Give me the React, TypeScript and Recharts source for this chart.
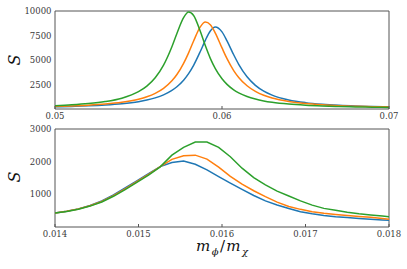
import { LineChart, Line, XAxis, YAxis, ReferenceArea } from "recharts";

// upper panel: m_phi/m_chi around 0.05 - 0.07
const xTop = [
  0.05, 0.051, 0.052, 0.053, 0.054, 0.055, 0.0555, 0.056, 0.0565, 0.057, 0.0573, 0.0577, 0.058, 0.0583, 0.0587,
  0.059, 0.0593, 0.0596, 0.06, 0.0603, 0.0607, 0.061, 0.0615, 0.062, 0.0625, 0.063, 0.064, 0.065, 0.066, 0.067,
  0.068, 0.069, 0.07,
];
const blueTop = [
  321, 362, 419, 503, 632, 843, 1003, 1222, 1531, 1980, 2350, 3010, 3673, 4512, 5905, 7039, 7981, 8389, 7893, 6985,
  5577, 4613, 3355, 2493, 1908, 1506, 1015, 744, 582, 477, 406, 355, 319,
];
const orangeTop = [
  355, 407, 482, 595, 775, 1086, 1331, 1678, 2184, 2945, 3580, 4706, 5775, 6974, 8394, 8878, 8615, 7773, 6269, 5182,
  3986, 3291, 2446, 1877, 1484, 1207, 855, 650, 523, 438, 379, 336, 304,
];
const greenTop = [
  436, 520, 646, 846, 1191, 1847, 2408, 3251, 4530, 6390, 7726, 9326, 9895, 9552, 7950, 6506, 5216, 4176, 3150, 2590,
  2041, 1736, 1362, 1103, 917, 779, 594, 480, 404, 351, 314, 285, 264,
];
const xTopTicks = [0.05, 0.06, 0.07];
const yTopTicks = [2500, 5000, 7500, 10000];

// lower panel: m_phi/m_chi around 0.014 - 0.018
const xBottom = [
  0.014, 0.01414, 0.01428, 0.01442, 0.01456, 0.0147, 0.01484, 0.01498, 0.01512, 0.01526, 0.0154, 0.01554, 0.01568,
  0.01582, 0.01596, 0.0161, 0.01624, 0.01638, 0.01652, 0.01666, 0.0168, 0.01694, 0.01708, 0.01722, 0.01736, 0.0175,
  0.01764, 0.01778, 0.01792, 0.018,
];
const blueBottom = [
  430, 482, 555, 660, 795, 980, 1195, 1415, 1630, 1850, 1975, 2020, 1920, 1750, 1545, 1345, 1150, 965, 800, 675, 565,
  470, 405, 355, 315, 288, 262, 238, 215, 203,
];
const orangeBottom = [
  430, 480, 550, 650, 780, 960, 1170, 1390, 1610, 1845, 2070, 2180, 2200, 2080, 1830, 1550, 1310, 1110, 930, 760, 630,
  540, 470, 420, 385, 350, 320, 295, 262, 240,
];
const greenBottom = [
  428, 477, 545, 640, 765, 940, 1145, 1365, 1590, 1840, 2200, 2440, 2600, 2600, 2440, 2150, 1800, 1510, 1290, 1100,
  950, 800, 670, 570, 510, 450, 405, 370, 335, 317,
];
const xBottomTicks = [0.014, 0.015, 0.016, 0.017, 0.018];
const yBottomTicks = [1000, 2000, 3000];

const topData = xTop.map((x, i) => ({ x, blue: blueTop[i], orange: orangeTop[i], green: greenTop[i] }));
const bottomData = xBottom.map((x, i) => ({ x, blue: blueBottom[i], orange: orangeBottom[i], green: greenBottom[i] }));

const FONT = "DejaVu Serif";
const FRAME = "#555";
const TXT = "#3a3a3a";
const COLORS = { blue: "#1f77b4", orange: "#ff7f0e", green: "#2ca02c" };

const XTick = ({ x, y, payload, digits }: any) => (
  <g>
    <line x1={x} x2={x} y1={y} y2={y - 3} stroke={FRAME} strokeWidth={1} />
    <text x={x} y={y + 3.5} dy="0.71em" textAnchor="middle" fontSize={8.5} style={{ fontFamily: FONT }} fill={TXT}>
      {Number(payload.value).toFixed(digits)}
    </text>
  </g>
);

const YTick = ({ x, y, payload }: any) => (
  <text x={x - 3.5} y={y} dy="0.35em" textAnchor="end" fontSize={8.5} style={{ fontFamily: FONT }} fill={TXT}>
    {payload.value}
  </text>
);

function Panel({ data, xDomain, xTicks, yDomain, yTicks, digits, curve }: any) {
  return (
    <LineChart width={407} height={125} data={data} margin={{ top: 11, right: 18, bottom: 0, left: 0 }}>
      <XAxis
        dataKey="x"
        type="number"
        domain={xDomain}
        ticks={xTicks}
        allowDataOverflow
        axisLine={false}
        tickLine={false}
        tickSize={0}
        tickMargin={0}
        height={16}
        interval={0}
        tick={<XTick digits={digits} />}
      />
      <YAxis
        type="number"
        domain={yDomain}
        ticks={yTicks}
        allowDataOverflow
        axisLine={false}
        tickLine={false}
        tickSize={0}
        tickMargin={0}
        width={55}
        interval={0}
        tick={<YTick />}
      />
      <Line dataKey="blue" type={curve} stroke={COLORS.blue} strokeWidth={1.5} dot={false} isAnimationActive={false} />
      <Line dataKey="orange" type={curve} stroke={COLORS.orange} strokeWidth={1.5} dot={false} isAnimationActive={false} />
      <Line dataKey="green" type={curve} stroke={COLORS.green} strokeWidth={1.5} dot={false} isAnimationActive={false} />
      <ReferenceArea
        x1={xDomain[0]}
        x2={xDomain[1]}
        y1={yDomain[0]}
        y2={yDomain[1]}
        fill="none"
        fillOpacity={0}
        stroke={FRAME}
        strokeWidth={1}
        ifOverflow="visible"
      />
    </LineChart>
  );
}

export default function App() {
  return (
    <div style={{ position: "absolute", left: 0, top: 0, width: 407, height: 269, background: "#fff" }}>
      <div style={{ position: "absolute", left: 0, top: 0 }}>
        <Panel
          data={topData}
          xDomain={[0.05, 0.07]}
          xTicks={xTopTicks}
          yDomain={[100, 10000]}
          yTicks={yTopTicks}
          digits={2}
          curve="monotone"
        />
      </div>
      <div style={{ position: "absolute", left: 0, top: 118 }}>
        <Panel
          data={bottomData}
          xDomain={[0.014, 0.018]}
          xTicks={xBottomTicks}
          yDomain={[0, 3000]}
          yTicks={yBottomTicks}
          digits={3}
          curve="linear"
        />
      </div>
      <svg width={407} height={269} style={{ position: "absolute", left: 0, top: 0, pointerEvents: "none", fontFamily: FONT }}>
        <text x={14} y={60} transform="rotate(-90 14 60)" textAnchor="middle" dy="0.35em" fontSize={16} fontStyle="italic" fill="#111">
          S
        </text>
        <text x={14} y={177} transform="rotate(-90 14 177)" textAnchor="middle" dy="0.35em" fontSize={16} fontStyle="italic" fill="#111">
          S
        </text>
        <text x={222} y={251} textAnchor="middle" fontSize={15} fontStyle="italic" fill="#111">
          <tspan>m</tspan>
          <tspan fontSize={10} dx={1.5} dy={4}>ϕ</tspan>
          <tspan dx={1.5} dy={-4} fontStyle="normal">/</tspan>
          <tspan dx={1}>m</tspan>
          <tspan fontSize={10} dx={1.5} dy={4}>χ</tspan>
        </text>
      </svg>
    </div>
  );
}
